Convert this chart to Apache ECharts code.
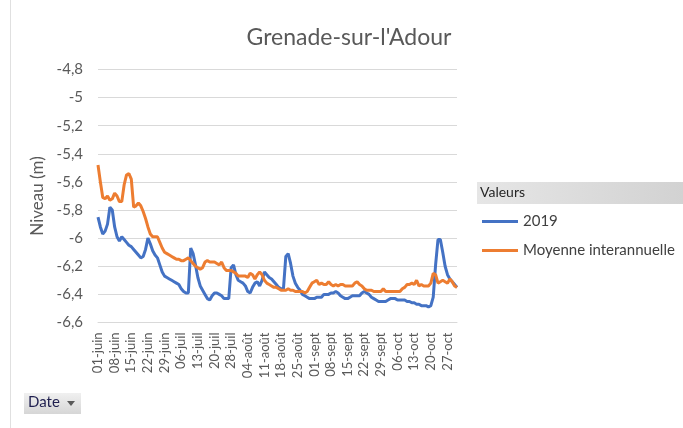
<!DOCTYPE html>
<html><head><meta charset="utf-8">
<script src="https://cdn.jsdelivr.net/npm/echarts@6/dist/echarts.min.js"></script>
<style>html,body{margin:0;padding:0;background:#fff}#c{width:683px;height:428px}</style>
</head><body><div id="c"></div>
<script>
// ---- data ----
const monthNames = ['juin','juil','août','sept','oct'];
const monthDays = [30,31,31,30,31];
const skippedDates = ['27-juil'];
const seriesNames = ['2019','Moyenne interannuelle'];
const yMin = -6.6, yMax = -4.8, yStep = 0.2;

const values2019 = [
-5.85,-5.92,-5.97,-5.95,-5.90,-5.78,-5.80,-5.92,-5.99,-6.02,
-5.99,-6.01,-6.03,-6.05,-6.06,-6.08,-6.10,-6.12,-6.14,-6.13,
-6.08,-6.00,-6.04,-6.09,-6.12,-6.14,-6.19,-6.24,-6.27,-6.28,
-6.29,-6.30,-6.31,-6.32,-6.33,-6.36,-6.38,-6.39,-6.39,-6.07,
-6.11,-6.19,-6.28,-6.34,-6.37,-6.40,-6.43,-6.44,-6.41,-6.39,
-6.39,-6.40,-6.41,-6.43,-6.43,-6.43,-6.21,-6.19,-6.26,-6.30,
-6.31,-6.32,-6.34,-6.38,-6.39,-6.35,-6.32,-6.31,-6.34,-6.30,
-6.24,-6.26,-6.28,-6.29,-6.31,-6.33,-6.35,-6.36,-6.36,-6.13,
-6.11,-6.18,-6.27,-6.32,-6.35,-6.37,-6.40,-6.41,-6.42,-6.43,
-6.43,-6.43,-6.42,-6.42,-6.42,-6.40,-6.40,-6.40,-6.39,-6.39,
-6.38,-6.39,-6.41,-6.42,-6.43,-6.43,-6.42,-6.41,-6.41,-6.41,
-6.41,-6.39,-6.38,-6.39,-6.40,-6.42,-6.43,-6.44,-6.45,-6.45,
-6.45,-6.45,-6.44,-6.43,-6.43,-6.43,-6.44,-6.44,-6.44,-6.44,
-6.45,-6.45,-6.46,-6.46,-6.47,-6.47,-6.48,-6.48,-6.48,-6.49,
-6.48,-6.42,-6.19,-6.01,-6.01,-6.10,-6.20,-6.26,-6.29,-6.31,
-6.33,-6.35
];
const valuesMoyenne = [
-5.48,-5.60,-5.71,-5.72,-5.70,-5.73,-5.72,-5.68,-5.70,-5.74,
-5.74,-5.62,-5.55,-5.54,-5.58,-5.78,-5.77,-5.75,-5.77,-5.81,
-5.86,-5.92,-5.97,-5.99,-5.99,-5.99,-6.03,-6.07,-6.10,-6.11,
-6.12,-6.13,-6.14,-6.15,-6.15,-6.16,-6.16,-6.15,-6.14,-6.16,
-6.18,-6.20,-6.21,-6.22,-6.21,-6.17,-6.16,-6.17,-6.17,-6.17,
-6.18,-6.19,-6.17,-6.21,-6.23,-6.23,-6.23,-6.24,-6.25,-6.27,
-6.27,-6.27,-6.27,-6.28,-6.25,-6.26,-6.29,-6.26,-6.24,-6.26,
-6.30,-6.32,-6.33,-6.34,-6.35,-6.35,-6.36,-6.37,-6.37,-6.37,
-6.36,-6.37,-6.37,-6.38,-6.38,-6.38,-6.38,-6.39,-6.38,-6.35,
-6.32,-6.31,-6.30,-6.33,-6.32,-6.33,-6.33,-6.31,-6.33,-6.34,
-6.33,-6.34,-6.33,-6.33,-6.34,-6.34,-6.34,-6.34,-6.32,-6.31,
-6.33,-6.34,-6.36,-6.37,-6.37,-6.37,-6.38,-6.38,-6.38,-6.38,
-6.36,-6.38,-6.38,-6.38,-6.38,-6.38,-6.38,-6.38,-6.36,-6.35,
-6.33,-6.33,-6.32,-6.33,-6.30,-6.34,-6.33,-6.34,-6.34,-6.34,
-6.32,-6.25,-6.26,-6.32,-6.31,-6.30,-6.31,-6.32,-6.29,-6.31,
-6.34,-6.35
];

// ---- categories (daily dates) ----
const categories = [];
monthNames.forEach((m, i) => {
  for (let d = 1; d <= monthDays[i]; d++) {
    const lab = (d < 10 ? '0' : '') + d + '-' + m;
    if (skippedDates.indexOf(lab) < 0) categories.push(lab);
  }
});

const FONT = 'Lato';
const chart = echarts.init(document.getElementById('c'), null, {renderer: 'canvas'});
chart.setOption({
  animation: false,
  backgroundColor: '#ffffff',
  color: ['#4472C4', '#ED7D31'],
  textStyle: {fontFamily: FONT},
  title: {
    text: "Grenade-sur-l'Adour",
    left: 344, top: 21, textAlign: 'center',
    textStyle: {fontFamily: FONT, fontSize: 23, fontWeight: 'normal', color: '#595959'}
  },
  grid: {left: 98, right: 226, top: 69.5, bottom: 105.5, containLabel: false},
  legend: {
    data: seriesNames,
    orient: 'vertical',
    left: 477, top: 208,
    icon: 'rect', itemWidth: 36, itemHeight: 3, itemGap: 12,
    textStyle: {fontFamily: FONT, fontSize: 15, color: '#404040', lineHeight: 17}
  },
  xAxis: {
    type: 'category',
    data: categories,
    boundaryGap: false,
    axisLine: {lineStyle: {color: '#d9d9d9'}},
    axisTick: {show: false},
    axisLabel: {interval: 6, rotate: 90, margin: 10, fontFamily: FONT, fontSize: 13, color: '#595959'}
  },
  yAxis: {
    type: 'value',
    min: yMin, max: yMax, interval: yStep,
    name: 'Niveau (m)',
    nameLocation: 'middle', nameRotate: 90, nameGap: 45,
    nameTextStyle: {fontFamily: FONT, fontSize: 17, color: '#595959'},
    axisLine: {show: false}, axisTick: {show: false},
    splitLine: {lineStyle: {color: '#d9d9d9', width: 1}},
    axisLabel: {
      margin: 15, fontFamily: FONT, fontSize: 15, color: '#595959',
      formatter: v => String(Math.round(v * 10) / 10).replace('.', ',')
    }
  },
  series: [
    {name: seriesNames[0], type: 'line', data: values2019, showSymbol: false, symbol: 'none',
     lineStyle: {width: 3, color: '#4472C4'}, itemStyle: {color: '#4472C4'}},
    {name: seriesNames[1], type: 'line', data: valuesMoyenne, showSymbol: false, symbol: 'none',
     lineStyle: {width: 3, color: '#ED7D31'}, itemStyle: {color: '#ED7D31'}}
  ],
  graphic: [
    {type: 'line', shape: {x1: 10.5, y1: 0, x2: 10.5, y2: 428}, style: {stroke: '#e0e0e0', lineWidth: 1}, silent: true},
    {type: 'rect', shape: {x: 477, y: 182, width: 206, height: 22},
     style: {fill: new echarts.graphic.LinearGradient(0, 0, 1, 0, [{offset: 0, color: '#e6e6e6'}, {offset: 1, color: '#d2d2d2'}])}, silent: true},
    {type: 'text', left: 480, top: 185, style: {text: 'Valeurs', fontFamily: FONT, fontSize: 14, fill: '#262626'}, silent: true},
    {type: 'rect', shape: {x: 24, y: 393, width: 57, height: 21},
     style: {fill: new echarts.graphic.LinearGradient(0, 0, 0, 1, [{offset: 0, color: '#f0f0f0'}, {offset: 1, color: '#d6d6d6'}])}, silent: true},
    {type: 'text', left: 28, top: 395, style: {text: 'Date', fontFamily: FONT, fontSize: 15, fill: '#1f1f4f'}, silent: true},
    {type: 'polygon', shape: {points: [[67, 401], [75, 401], [71, 406]]}, style: {fill: '#595959'}, silent: true}
  ]
});
</script></body></html>
